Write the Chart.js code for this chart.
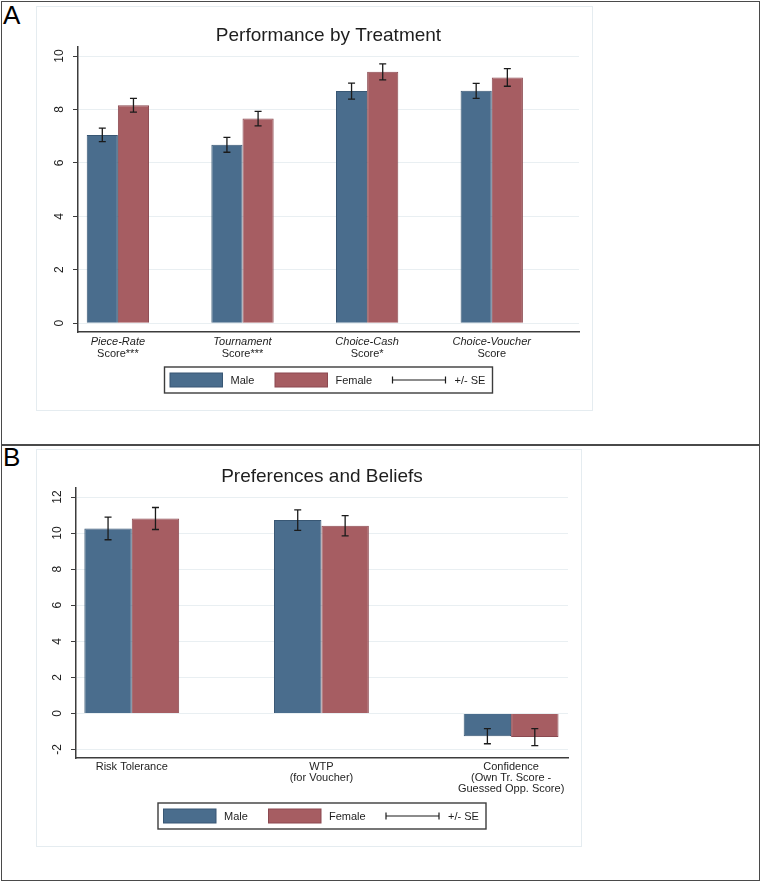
<!DOCTYPE html>
<html>
<head>
<meta charset="utf-8">
<script src="https://cdn.jsdelivr.net/npm/chart.js@4.4.1/dist/chart.umd.min.js"></script>
<style>
    body { margin: 0; background: #fff; font-family: "Liberation Sans", Arial, sans-serif; }
    #fig { position: relative; width: 762px; height: 883px; }
    .panel { position: absolute; left: 1px; width: 759px; border: 1.5px solid #4a4a4a; box-sizing: border-box; }
    .inner { position: absolute; border: 1.5px solid #e5ecf0; box-sizing: border-box; }
    .letter { position: absolute; left: 3px; font-size: 26px; line-height: 26px; color: #000; }
    canvas { position: absolute; left: 0; }
</style>
</head>
<body>
<div id="fig">
    <div class="panel" style="top:1px;height:445px"></div>
    <div class="panel" style="top:444px;height:437px"></div>
    <div class="inner" style="left:36px;top:6px;width:557px;height:405px"></div>
    <div class="inner" style="left:36px;top:449px;width:546px;height:398px"></div>
    <div class="letter" style="top:2px">A</div>
    <div class="letter" style="top:444px">B</div>
    <canvas id="chartA" width="762" height="445" style="top:0"></canvas>
    <canvas id="chartB" width="762" height="438" style="top:445px"></canvas>
</div>

<script>
// panel A - performance by treatment
const treatLabels = [['Piece-Rate', 'Score***'], ['Tournament', 'Score***'], ['Choice-Cash', 'Score*'], ['Choice-Voucher', 'Score']];
const perfMale = [7.05, 6.68, 8.69, 8.70];
const perfFemale = [8.16, 7.66, 9.41, 9.20];
const perfMaleSE = [0.25, 0.28, 0.30, 0.28];
const perfFemaleSE = [0.26, 0.27, 0.30, 0.33];
const perfTicks = [0, 2, 4, 6, 8, 10];

// panel B - preferences and beliefs
const prefLabels = [['Risk Tolerance'], ['WTP', '(for Voucher)'], ['Confidence', '(Own Tr. Score -', 'Guessed Opp. Score)']];
const prefMale = [10.26, 10.72, -1.26];
const prefFemale = [10.81, 10.41, -1.31];
const prefMaleSE = [0.63, 0.57, 0.42];
const prefFemaleSE = [0.61, 0.56, 0.47];
const prefTicks = [-2, 0, 2, 4, 6, 8, 10, 12];

const seriesNames = ['Male', 'Female'];
const seLabel = '+/- SE';

const maleFill = '#4a6d8d';
const maleEdge = '#385774';
const femaleFill = '#a65d62';
const femaleEdge = '#8b4950';
const FONT = '"Liberation Sans", Arial, sans-serif';

function decorPlugin(cfg) {
    return {
        id: 'decor',
        afterDatasetsDraw(chart) {
            const ctx = chart.ctx;
            const yScale = chart.scales.y;
            ctx.save();
            ctx.strokeStyle = '#1b1b1b';
            ctx.lineWidth = 1.3;
            chart.data.datasets.forEach((ds, di) => {
                chart.getDatasetMeta(di).data.forEach((bar, i) => {
                    const v = ds.data[i].y;
                    const top = yScale.getPixelForValue(v + ds.se[i]);
                    const bot = yScale.getPixelForValue(v - ds.se[i]);
                    ctx.beginPath();
                    ctx.moveTo(bar.x, top); ctx.lineTo(bar.x, bot);
                    ctx.moveTo(bar.x - 3.5, top); ctx.lineTo(bar.x + 3.5, top);
                    ctx.moveTo(bar.x - 3.5, bot); ctx.lineTo(bar.x + 3.5, bot);
                    ctx.stroke();
                });
            });
            ctx.restore();
        },
        afterDraw(chart) {
            const ctx = chart.ctx;
            const area = chart.chartArea;
            const xScale = chart.scales.x;
            const yScale = chart.scales.y;
            const mid = (area.left + area.right) / 2;
            ctx.save();
            ctx.fillStyle = '#1e1e1e';

            // title
            ctx.font = '19px ' + FONT;
            ctx.textAlign = 'center';
            ctx.textBaseline = 'alphabetic';
            ctx.fillText(cfg.title, mid, cfg.titleBaseline);

            // y tick labels, turned like stata does
            ctx.font = '12px ' + FONT;
            ctx.textBaseline = 'middle';
            yScale.ticks.forEach((t) => {
                ctx.save();
                ctx.translate(area.left - 18, yScale.getPixelForValue(t.value));
                ctx.rotate(-Math.PI / 2);
                ctx.fillText(String(t.value), 0, 0);
                ctx.restore();
            });

            // category labels
            cfg.labels.forEach((lines, i) => {
                const px = xScale.getPixelForValue(i + 1);
                lines.forEach((line, li) => {
                    ctx.font = (cfg.italicFirst && li === 0 ? 'italic ' : '') + '11px ' + FONT;
                    ctx.fillText(line, px, area.bottom + cfg.labelTop + li * cfg.labelStep);
                });
            });

            // legend
            const lx = mid - 164;
            const ly = area.bottom + cfg.legendGap;
            const cy = ly + 13;
            ctx.strokeStyle = '#3c3c3c';
            ctx.lineWidth = 1.4;
            ctx.strokeRect(lx, ly, 328, 26);

            ctx.lineWidth = 1;
            ctx.fillStyle = maleFill;
            ctx.fillRect(lx + 5.5, ly + 6, 52.5, 14);
            ctx.strokeStyle = maleEdge;
            ctx.strokeRect(lx + 5.5, ly + 6, 52.5, 14);
            ctx.fillStyle = femaleFill;
            ctx.fillRect(lx + 110.5, ly + 6, 52.5, 14);
            ctx.strokeStyle = femaleEdge;
            ctx.strokeRect(lx + 110.5, ly + 6, 52.5, 14);

            ctx.strokeStyle = '#1b1b1b';
            ctx.lineWidth = 1.2;
            ctx.beginPath();
            ctx.moveTo(lx + 228, cy); ctx.lineTo(lx + 281, cy);
            ctx.moveTo(lx + 228, cy - 3.5); ctx.lineTo(lx + 228, cy + 3.5);
            ctx.moveTo(lx + 281, cy - 3.5); ctx.lineTo(lx + 281, cy + 3.5);
            ctx.stroke();

            ctx.fillStyle = '#1e1e1e';
            ctx.font = '11px ' + FONT;
            ctx.textAlign = 'left';
            ctx.fillText(chart.data.datasets[0].label, lx + 66, cy + 0.5);
            ctx.fillText(chart.data.datasets[1].label, lx + 171, cy + 0.5);
            ctx.fillText(seLabel, lx + 290, cy + 0.5);
            ctx.restore();
        }
    };
}

function buildPanel(canvasId, cfg) {
    const ctx = document.getElementById(canvasId).getContext('2d');
    const toPoints = (vals) => vals.map((v, i) => ({ x: i + 1, y: v }));

    new Chart(ctx, {
        type: 'bar',
        data: {
            datasets: [{
                label: seriesNames[0],
                data: toPoints(cfg.male),
                se: cfg.maleSE,
                backgroundColor: maleFill,
                borderColor: maleEdge,
                borderWidth: 1
            }, {
                label: seriesNames[1],
                data: toPoints(cfg.female),
                se: cfg.femaleSE,
                backgroundColor: femaleFill,
                borderColor: femaleEdge,
                borderWidth: 1
            }]
        },
        options: {
            responsive: false,
            animation: false,
            devicePixelRatio: 1,
            layout: { padding: cfg.padding },
            categoryPercentage: 0.5,
            barPercentage: 1,
            plugins: {
                legend: { display: false },
                title: { display: false },
                tooltip: { enabled: false }
            },
            scales: {
                x: {
                    type: 'linear',
                    min: cfg.xMin,
                    max: cfg.xMax,
                    offset: false,
                    grid: { display: false },
                    border: { color: '#3c3c3c', width: 1.5 },
                    ticks: { display: false },
                    afterBuildTicks: (scale) => { scale.ticks = cfg.labels.map((l, i) => ({ value: i + 1 })); },
                    afterFit: (scale) => { scale.height = 40; }
                },
                y: {
                    min: cfg.yMin,
                    max: cfg.yMax,
                    grid: { color: '#e9eff2', tickColor: '#3c3c3c', tickLength: 5, lineWidth: 1 },
                    border: { color: '#3c3c3c', width: 1.5 },
                    ticks: { display: false },
                    afterBuildTicks: (scale) => { scale.ticks = cfg.ticks.map((v) => ({ value: v })); },
                    afterFit: (scale) => { scale.width = 40; }
                }
            }
        },
        plugins: [decorPlugin(cfg)]
    });
}

buildPanel('chartA', {
    title: 'Performance by Treatment',
    titleBaseline: 40.5,
    labels: treatLabels,
    italicFirst: true,
    male: perfMale, female: perfFemale,
    maleSE: perfMaleSE, femaleSE: perfFemaleSE,
    ticks: perfTicks,
    yMin: -0.33, yMax: 10.34,
    xMin: 0.68, xMax: 4.70,
    padding: { left: 38, top: 47, right: 183, bottom: 73 },
    labelTop: 10, labelStep: 11.6,
    legendGap: 35
});

buildPanel('chartB', {
    title: 'Preferences and Beliefs',
    titleBaseline: 37,
    labels: prefLabels,
    italicFirst: false,
    male: prefMale, female: prefFemale,
    maleSE: prefMaleSE, femaleSE: prefFemaleSE,
    ticks: prefTicks,
    yMin: -2.47, yMax: 12.5,
    xMin: 0.706, xMax: 3.30,
    padding: { left: 36, top: 43, right: 194, bottom: 85 },
    labelTop: 9.3, labelStep: 11,
    legendGap: 45
});
</script>
</body>
</html>
